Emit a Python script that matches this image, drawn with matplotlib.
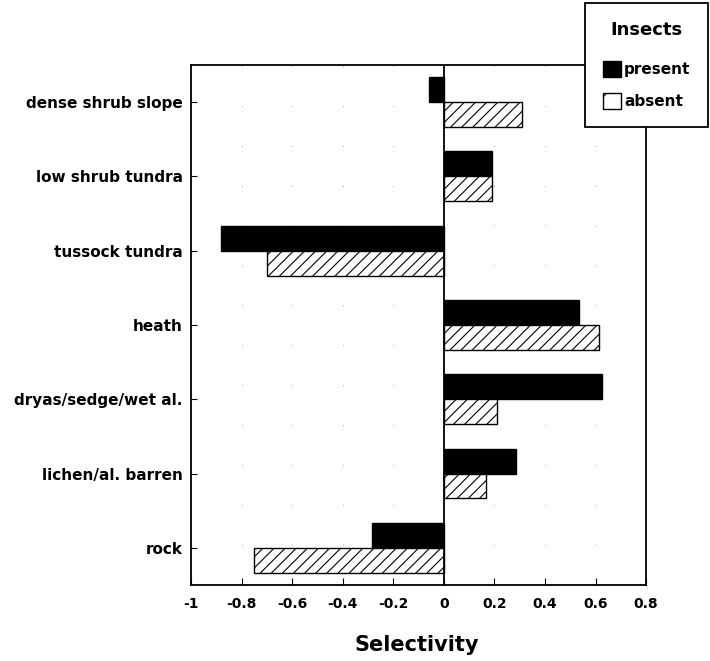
import matplotlib
matplotlib.use("Agg")
import matplotlib.pyplot as plt
import numpy as np
from matplotlib.patches import Patch

# Habitat selectivity with and without insects
habitats = ["dense shrub slope", "low shrub tundra", "tussock tundra", "heath",
            "dryas/sedge/wet al.", "lichen/al. barren", "rock"]
present = [-0.06, 0.19, -0.88, 0.535, 0.625, 0.285, -0.285]
absent = [0.31, 0.19, -0.70, 0.615, 0.21, 0.165, -0.75]
x_ticks = [-1, -0.8, -0.6, -0.4, -0.2, 0, 0.2, 0.4, 0.6, 0.8]
x_tick_labels = ["-1", "-0.8", "-0.6", "-0.4", "-0.2", "0", "0.2", "0.4", "0.6", "0.8"]

plt.rcParams["font.family"] = ["DejaVu Sans"]
plt.rcParams["font.weight"] = "bold"
plt.rcParams["hatch.linewidth"] = 0.8

fig = plt.figure(figsize=(7.10, 6.61), dpi=100)
ax = fig.add_axes([0.269, 0.115, 0.641, 0.787])

y = np.arange(len(habitats))
h = 0.336
ax.barh(y - h / 2, present, height=h, color="black", edgecolor="black",
        linewidth=1.0, zorder=3)
ax.barh(y + h / 2, absent, height=h, color="white", edgecolor="black",
        hatch="///", linewidth=1.0, zorder=3)

ax.axvline(0, color="black", linewidth=1.3, zorder=4)

ax.set_xlim(-1, 0.8)
ax.set_ylim(len(habitats) - 0.5, -0.5)
ax.set_xticks(x_ticks)
ax.set_xticklabels(x_tick_labels, fontsize=10, fontweight="bold")
ax.set_yticks(y)
ax.set_yticklabels(habitats, fontsize=11, fontweight="bold")
ax.tick_params(axis="x", direction="in", length=5, width=0.8, pad=9)
ax.tick_params(axis="y", direction="in", length=4, width=0.8, pad=6)

ax.grid(axis="x", color="#aaaaaa", linestyle=(0, (1, 40)), linewidth=0.7, zorder=0)

for s in ax.spines.values():
    s.set_linewidth(1.3)
    s.set_color("black")

fig.text(417 / 710, 1 - 645 / 661, "Selectivity", ha="center", va="center",
         fontsize=15, fontweight="bold")

handles = [Patch(facecolor="black", edgecolor="black"),
           Patch(facecolor="white", edgecolor="black", hatch="/")]
leg = ax.legend(handles, ["present", "absent"], title="Insects",
                title_fontproperties={"weight": "bold", "size": 13},
                prop={"weight": "bold", "size": 11},
                loc="upper right", bbox_to_anchor=(0.997, 0.995),
                bbox_transform=fig.transFigure, borderaxespad=0,
                handlelength=1.2, handleheight=1.2, handletextpad=0.2,
                labelspacing=1.05, borderpad=1.15, fancybox=False,
                framealpha=1, edgecolor="black")
leg.get_frame().set_linewidth(1.3)
leg._legend_box.align = "center"
leg._legend_box.sep = 16

fig.savefig("out.png", dpi=100)
